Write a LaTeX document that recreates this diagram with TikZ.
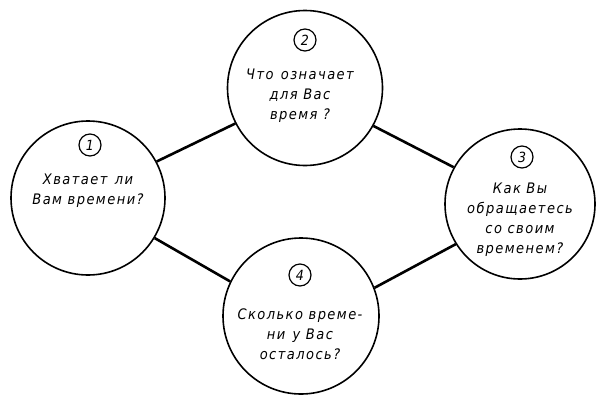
\documentclass[tikz,border=0pt]{standalone}
\usepackage{fontspec}
\setmainfont{DejaVu Sans Condensed}
\newfontfamily\gostfont{DejaVu Sans Condensed}[LetterSpace=10]
\begin{document}
\begin{tikzpicture}[x=1pt,y=-1pt,
  big/.style={draw, circle, line width=1.6pt, inner sep=0pt},
  num/.style={draw, circle, line width=1.2pt, minimum size=22pt, inner sep=0pt, font=\itshape\fontsize{14}{14}\selectfont},
  txt/.style={align=center, inner sep=0pt, font=\gostfont\itshape\fontsize{14.5}{20}\selectfont},
  link/.style={line width=2.6pt}]
\fill[white] (0,0) rectangle (596,399);
\useasboundingbox (0,0) rectangle (596,399);
\node[big, minimum size=154pt] (c1) at (88,198) {};
\node[big, minimum size=155pt] (c2) at (305,88) {};
\node[big, minimum size=150pt] (c3) at (520,204) {};
\node[big, minimum size=156pt] (c4) at (301,316) {};
\node[num] (n1) at (90,145) {1};
\node[num] (n2) at (305,40) {2};
\node[num] (n3) at (522,157) {3};
\node[num] (n4) at (300,275) {4};
\node[txt] (t1) at (88,191) {Хватает\enspace ли\\Вам времени?};
\node[txt] (t2) at (300,96) {Что\enspace означает\\для Вас\\время ?};
\node[txt] (t3) at (520,220) {Как Вы\\обращаетесь\\со своим\\временем?};
\node[txt] (t4) at (300,334) {Сколько време-\\ни\enspace у Вас\\осталось?};
\draw[link] (c1.28.5) -- (c2.207.2);
\draw[link] (c1.-31.7) -- (c4.154.1);
\draw[link] (c2.-29.7) -- (c3.151.8);
\draw[link] (c4.21.5) -- (c3.212.5);
\end{tikzpicture}
\end{document}
